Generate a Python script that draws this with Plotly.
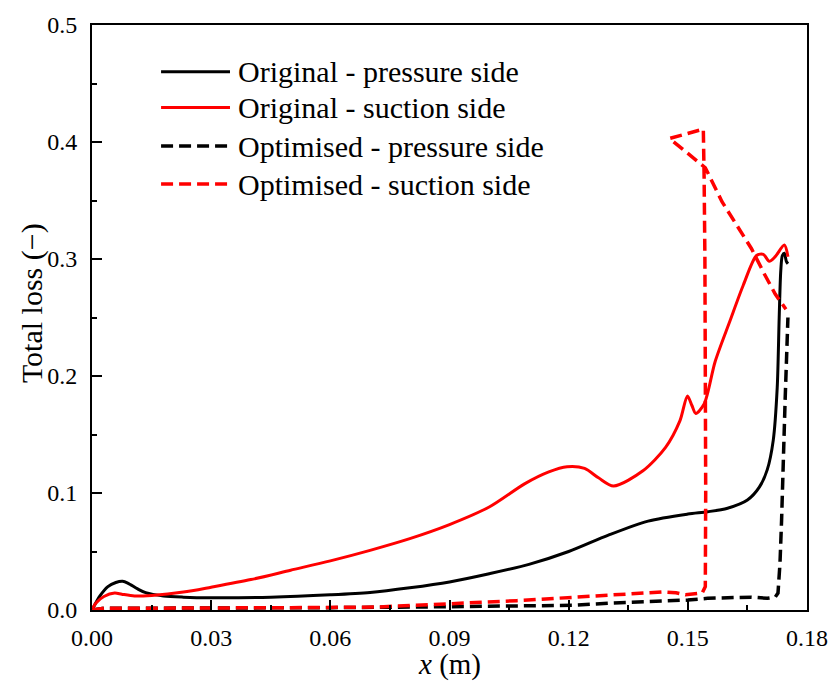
import plotly.graph_objects as go

# Chordwise position x (m) and total loss along each blade side
orig_ps_x = [0, 0.002, 0.004, 0.006, 0.0077, 0.009, 0.0115, 0.0135, 0.018, 0.023, 0.03, 0.045,
             0.06, 0.07, 0.08, 0.09, 0.1, 0.11, 0.12, 0.13, 0.14, 0.15, 0.155, 0.16, 0.165,
             0.168, 0.17, 0.1715, 0.1725, 0.173, 0.1734, 0.1738, 0.1743, 0.1748, 0.1752]
orig_ps_y = [0, 0.012, 0.020, 0.0235, 0.0245, 0.023, 0.018, 0.0148, 0.012, 0.011, 0.0105, 0.011,
             0.013, 0.015, 0.019, 0.024, 0.031, 0.039, 0.050, 0.064, 0.076, 0.082, 0.084, 0.087,
             0.094, 0.105, 0.12, 0.145, 0.19, 0.25, 0.29, 0.303, 0.305, 0.298, 0.296]

orig_ss_x = [0, 0.001, 0.003, 0.0057, 0.0075, 0.0107, 0.015, 0.023, 0.03, 0.04, 0.05, 0.06,
             0.07, 0.08, 0.09, 0.1, 0.109, 0.115, 0.1196, 0.124, 0.1275, 0.1313, 0.1387,
             0.1444, 0.148, 0.1499, 0.151, 0.152, 0.1541, 0.1569, 0.1606, 0.164, 0.1673,
             0.169, 0.1705, 0.172, 0.1743, 0.1752]
orig_ss_y = [0, 0.006, 0.0115, 0.0145, 0.0135, 0.012, 0.0125, 0.0153, 0.0195, 0.026, 0.034, 0.042,
             0.051, 0.061, 0.073, 0.088, 0.108, 0.118, 0.1224, 0.121, 0.113, 0.106, 0.119,
             0.139, 0.1616, 0.183, 0.175, 0.168, 0.176, 0.2126, 0.247, 0.278, 0.303,
             0.304, 0.298, 0.302, 0.312, 0.302]

opt_ps_x = [0, 0.003, 0.01, 0.03, 0.06, 0.08, 0.0964, 0.1047, 0.121, 0.131, 0.135, 0.15, 0.155,
            0.16, 0.166, 0.17, 0.172, 0.1727, 0.1732, 0.1736, 0.174, 0.1745, 0.175, 0.1752]
opt_ps_y = [0, 0.0015, 0.0015, 0.0015, 0.002, 0.0025, 0.003, 0.003, 0.004, 0.006, 0.0065, 0.0085,
            0.010, 0.0105, 0.011, 0.010, 0.011, 0.0145, 0.04, 0.0765, 0.13, 0.18, 0.23, 0.25]

opt_ss_x = [0, 0.003, 0.01, 0.03, 0.05, 0.0716, 0.0964, 0.107, 0.117, 0.131, 0.1437, 0.147,
            0.1494, 0.1536, 0.1544, 0.1545, 0.1545, 0.1543, 0.1541, 0.1539, 0.1454, 0.1544,
            0.1586, 0.162, 0.166, 0.1693, 0.172, 0.1747]
opt_ss_y = [0, 0.0015, 0.0015, 0.0015, 0.002, 0.0025, 0.006, 0.008, 0.010, 0.0128, 0.0155, 0.0148,
            0.013, 0.0145, 0.02, 0.1, 0.2, 0.3, 0.37, 0.411, 0.403, 0.378,
            0.349, 0.33, 0.309, 0.287, 0.27, 0.257]

legend_labels = ["Original - pressure side", "Original - suction side",
                 "Optimised - pressure side", "Optimised - suction side"]

x_ticks = [0, 0.03, 0.06, 0.09, 0.12, 0.15, 0.18]
y_ticks = [0, 0.1, 0.2, 0.3, 0.4, 0.5]
X_RANGE = [0, 0.18]
Y_RANGE = [0, 0.5]

FONT = "Liberation Serif"
RED = "#ff0000"
BLACK = "#000000"
DASH = "12px,6px"
CLEAR = "rgba(0,0,0,0)"

series = [
    (orig_ps_x, orig_ps_y, BLACK, "solid", "spline", 3),
    (orig_ss_x, orig_ss_y, RED, "solid", "spline", 3),
    (opt_ps_x, opt_ps_y, BLACK, DASH, "linear", 3.5),
    (opt_ss_x, opt_ss_y, RED, DASH, "linear", 3.5),
]

fig = go.Figure()
for (xs, ys, color, dash, shape, width), name in zip(series, legend_labels):
    line = dict(color=color, width=width, dash=dash, shape=shape)
    if shape == "spline":
        line["smoothing"] = 0.8
    fig.add_trace(go.Scatter(x=xs, y=ys, mode="lines", name=name, line=line,
                             showlegend=False))

# Companion axes carrying only the inward major/minor tick marks
fig.add_trace(go.Scatter(x=[None], y=[None], xaxis="x2", yaxis="y2",
                         showlegend=False, hoverinfo="skip"))

# Legend drawn in paper space with long line samples
row_y = [0.92, 0.859, 0.793, 0.728]
for (xs, ys, color, dash, shape, width), name, yy in zip(series, legend_labels, row_y):
    fig.add_shape(type="line", xref="paper", yref="paper", x0=0.0966, x1=0.193,
                  y0=yy, y1=yy, line=dict(color=color, width=width, dash=dash))
    fig.add_annotation(xref="paper", yref="paper", x=0.201, y=yy, text=name,
                       showarrow=False, xanchor="left", yanchor="middle",
                       font=dict(family=FONT, size=30, color=BLACK))

label_axis = dict(
    showline=True, linecolor=BLACK, linewidth=2, mirror=True,
    showgrid=False, zeroline=False,
    tickfont=dict(family=FONT, size=24, color=BLACK),
    ticks="outside", tickcolor=CLEAR,
)
tick_axis = dict(
    showline=False, showgrid=False, zeroline=False, showticklabels=False,
    ticks="inside", ticklen=10, tickwidth=1.5, tickcolor=BLACK,
)

fig.update_layout(
    xaxis=dict(range=X_RANGE, tickvals=x_ticks, tickformat=".2f", ticklen=5, **label_axis),
    yaxis=dict(range=Y_RANGE, tickvals=y_ticks, tickformat=".1f", ticklen=8, **label_axis),
    xaxis2=dict(range=X_RANGE, tickvals=x_ticks, overlaying="x", anchor="y2", side="bottom",
                minor=dict(ticks="inside", ticklen=5, tickwidth=1.5, tickcolor=BLACK,
                           tickvals=[0.015, 0.045, 0.075, 0.105, 0.135, 0.165]),
                **tick_axis),
    yaxis2=dict(range=Y_RANGE, tickvals=y_ticks, overlaying="y", anchor="x2", side="left",
                minor=dict(ticks="inside", ticklen=5, tickwidth=1.5, tickcolor=BLACK,
                           tickvals=[0.05, 0.15, 0.25, 0.35, 0.45]),
                **tick_axis),
)

fig.add_annotation(xref="paper", yref="paper", x=0.5, y=-0.094, text="<i>x</i> (m)",
                   showarrow=False, xanchor="center", yanchor="middle",
                   font=dict(family=FONT, size=29, color=BLACK))
fig.add_annotation(xref="paper", yref="paper", x=-0.083, y=0.524, text="Total loss (\u2212)",
                   textangle=-90, showarrow=False, xanchor="center", yanchor="middle",
                   font=dict(family=FONT, size=30, color=BLACK))

fig.update_layout(
    width=840, height=682,
    margin=dict(l=92, r=23, t=22, b=72),
    paper_bgcolor="white", plot_bgcolor="white",
    showlegend=False,
)

fig.write_html("out.html")
